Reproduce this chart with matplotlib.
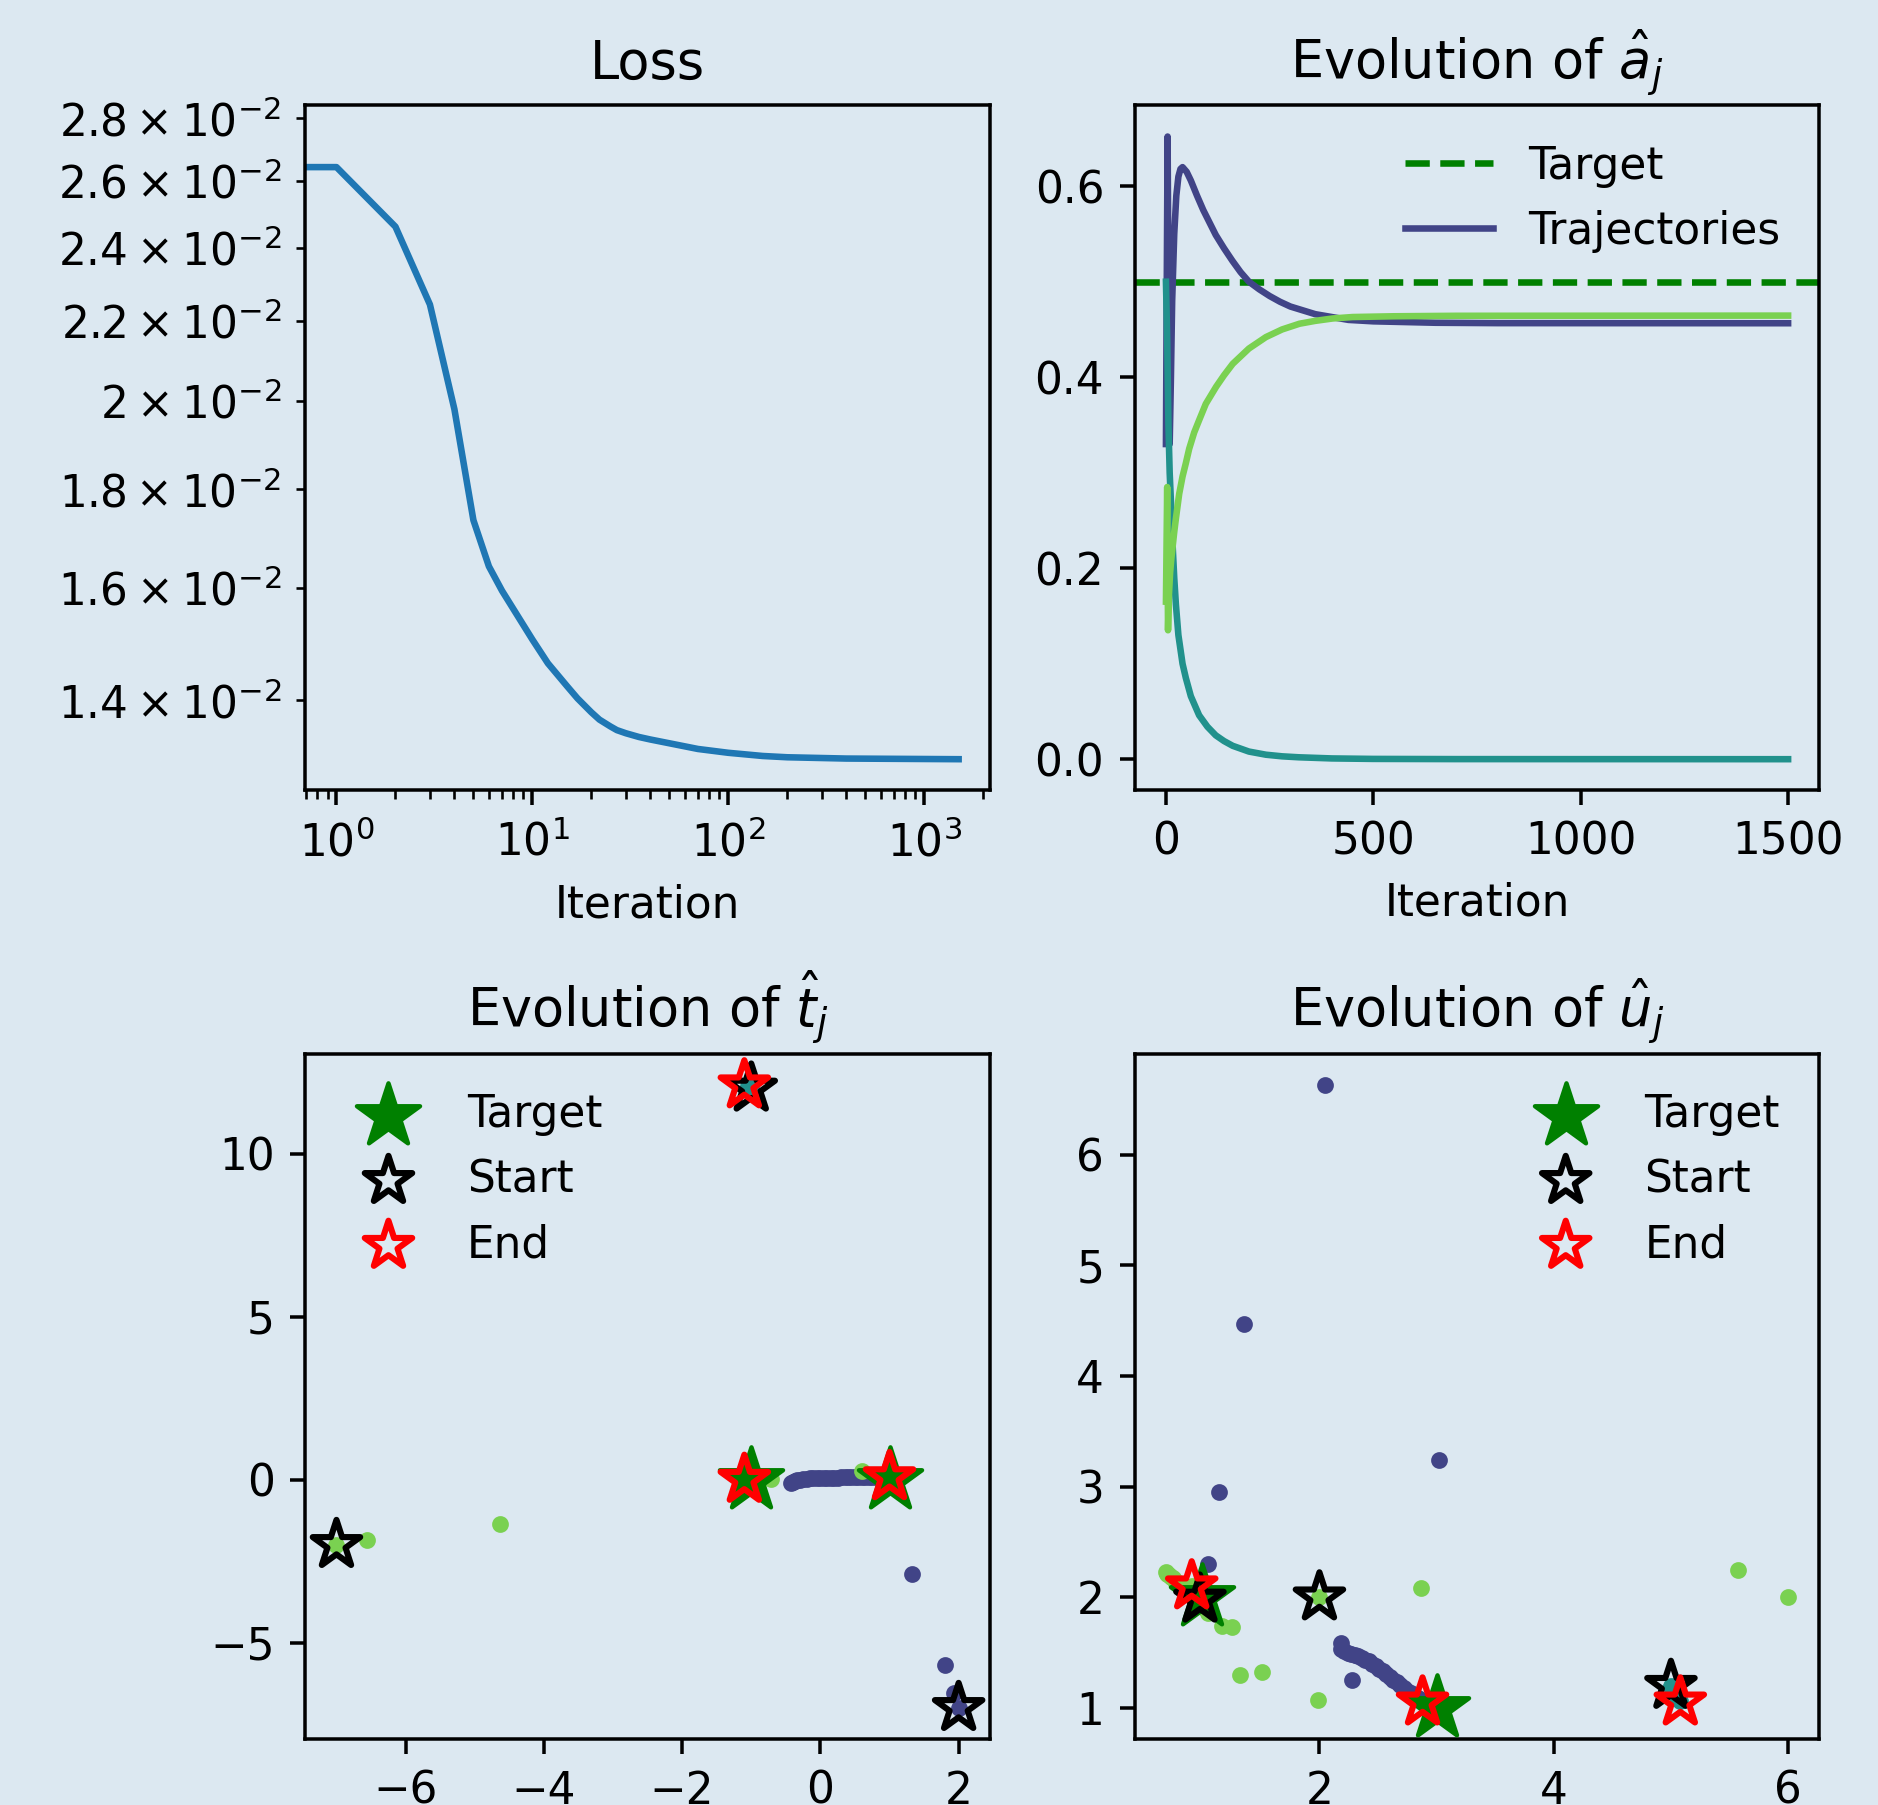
import matplotlib
matplotlib.use("Agg")
import matplotlib.pyplot as plt
import numpy as np
from matplotlib import cm

BG = "#dce8f1"

# --- loss curve ---
loss_iter = [0, 1, 2, 3, 4, 5, 6, 7, 10, 12, 15, 17, 20, 22, 25, 27, 30, 35, 40, 50,
             70, 100, 150, 200, 400, 1500]
loss_vals = [2.74e-2, 2.642e-2, 2.461e-2, 2.243e-2, 1.980e-2, 1.735e-2, 1.642e-2,
             1.595e-2, 1.505e-2, 1.463e-2, 1.424e-2, 1.403e-2, 1.380e-2, 1.368e-2,
             1.357e-2, 1.351e-2, 1.346e-2, 1.340e-2, 1.336e-2, 1.330e-2, 1.321e-2,
             1.315e-2, 1.310e-2, 1.308e-2, 1.306e-2, 1.305e-2]

# --- amplitudes a_j ---
a_target = 0.5
a0_iter = [0, 2, 4, 6, 9, 12, 15, 20, 25, 30, 35, 40, 50, 60, 75, 90, 105, 120, 140,
           160, 180, 200, 225, 250, 275, 300, 330, 360, 400, 440, 500, 550, 650, 800, 1500]
a0_vals = [0.33, 0.50, 0.652, 0.50, 0.33, 0.40, 0.48, 0.55, 0.59, 0.61, 0.618, 0.62,
           0.615, 0.606, 0.59, 0.575, 0.562, 0.549, 0.535, 0.522, 0.51, 0.50, 0.492,
           0.485, 0.479, 0.474, 0.470, 0.466, 0.463, 0.460, 0.4585, 0.458, 0.457,
           0.4566, 0.4565]
a1_iter = [0, 3, 6, 9, 12, 16, 20, 24, 30, 40, 48, 60, 80, 100, 120, 140, 161, 200,
           241, 280, 320, 400, 500, 700, 1500]
a1_vals = [0.50, 0.44, 0.35, 0.30, 0.27, 0.225, 0.19, 0.162, 0.13, 0.10, 0.085, 0.066,
           0.046, 0.034, 0.025, 0.019, 0.014, 0.008, 0.0047, 0.003, 0.002, 0.0008,
           0.0003, 0.0001, 0.0]
a2_iter = [0, 3, 5, 7, 10, 13, 16, 20, 24, 32, 40, 48, 56, 68, 80, 96, 121, 140, 161,
           200, 241, 280, 322, 360, 402, 450, 550, 700, 1500]
a2_vals = [0.165, 0.285, 0.135, 0.17, 0.195, 0.21, 0.222, 0.238, 0.252, 0.278, 0.296,
           0.31, 0.325, 0.342, 0.355, 0.372, 0.390, 0.402, 0.414, 0.430, 0.442, 0.450,
           0.456, 0.459, 0.4615, 0.463, 0.4638, 0.4643, 0.4645]

# --- positions t_j ---
t_target_x = [-1.0, 1.0]
t_target_y = [0.0, 0.0]
t_start_x = [2.0, -1.0, -7.0]
t_start_y = [-7.0, 12.0, -2.0]
t_end_x = [1.0, -1.1, -1.1]
t_end_y = [0.08, 12.1, 0.0]
t0_x = [2.0, 1.93, 1.8, 1.33, -0.42, -0.40, -0.37, -0.34, -0.30, -0.25, -0.20, -0.15,
        -0.10, -0.05, 0.0, 0.05, 0.10, 0.15, 0.20, 0.25, 0.30, 0.35, 0.40, 0.45, 0.50,
        0.55, 0.60, 0.65, 0.70, 0.75, 0.80, 0.85, 0.90, 0.95]
t0_y = [-7.0, -6.55, -5.68, -2.9, -0.10, -0.06, -0.03, -0.01, 0.0, 0.02, 0.03, 0.04,
        0.04, 0.05, 0.05, 0.05, 0.06, 0.06, 0.06, 0.06, 0.07, 0.07, 0.07, 0.07, 0.08,
        0.08, 0.08, 0.08, 0.09, 0.09, 0.09, 0.09, 0.09, 0.08]
t1_x = [-1.0, -1.02, -1.04]
t1_y = [12.0, 12.03, 12.06]
t2_x = [-7.0, -6.56, -4.63, 0.6, -0.72, -0.9, -1.0, -1.05]
t2_y = [-2.01, -1.86, -1.37, 0.26, 0.03, 0.02, 0.01, 0.0]

# --- shapes u_j ---
u_target_x = [1.0, 3.0]
u_target_y = [2.0, 1.0]
u_start_x = [0.98, 5.0, 2.0]
u_start_y = [1.98, 1.2, 2.0]
u_end_x = [2.88, 5.08, 0.91]
u_end_y = [1.05, 1.05, 2.1]
u0_x = [0.98, 2.05, 1.36, 3.02, 1.14, 1.05, 2.18, 2.28,
        2.18, 2.21, 2.24, 2.27, 2.30, 2.33, 2.36, 2.39, 2.42, 2.45, 2.48, 2.51, 2.54,
        2.57, 2.60, 2.63, 2.66, 2.69, 2.72, 2.75, 2.78, 2.81, 2.84, 2.87]
u0_y = [1.98, 6.63, 4.47, 3.24, 2.95, 2.30, 1.59, 1.25,
        1.53, 1.51, 1.50, 1.49, 1.48, 1.465, 1.45, 1.435, 1.42, 1.40, 1.38, 1.355, 1.33,
        1.305, 1.28, 1.255, 1.23, 1.205, 1.18, 1.155, 1.13, 1.11, 1.09, 1.07]
u1_x = [5.0, 5.0, 5.05, 5.08]
u1_y = [1.2, 1.19, 1.1, 1.06]
u2_x = [2.0, 6.0, 5.57, 2.87, 1.51, 1.32, 1.99, 1.17, 1.25,
        0.69, 0.70, 0.72, 0.73, 0.75, 0.77, 0.79, 0.81, 0.83, 0.85, 0.87, 0.89, 0.91,
        0.93, 0.95, 0.97, 0.99, 1.01, 1.03, 1.05, 0.91]
u2_y = [2.0, 2.0, 2.25, 2.08, 1.32, 1.30, 1.07, 1.74, 1.73,
        2.23, 2.21, 2.20, 2.18, 2.17, 2.15, 2.13, 2.11, 2.09, 2.07, 2.05, 2.03, 2.01,
        1.99, 1.97, 1.95, 1.93, 1.91, 1.89, 1.86, 2.1]

colors = cm.viridis(np.linspace(0.2, 0.8, 3))

plt.rcParams["figure.facecolor"] = BG
plt.rcParams["axes.facecolor"] = BG
plt.rcParams["savefig.facecolor"] = BG

DPI = 315
fig, axes = plt.subplots(2, 2, figsize=(1878 / DPI, 1805 / DPI), dpi=DPI)
fig.subplots_adjust(left=0.1626, right=0.9687, top=0.9416, bottom=0.0366,
                    wspace=0.212, hspace=0.385)

ax = axes[0, 0]
ax.plot(loss_iter, loss_vals, color="C0")
ax.set_xscale("log")
ax.set_yscale("log")
ax.set_title("Loss")
ax.set_xlabel("Iteration")

ax = axes[0, 1]
ax.axhline(a_target, color="green", linestyle="--", label="Target")
ax.plot(a0_iter, a0_vals, color=colors[0], label="Trajectories")
ax.plot(a1_iter, a1_vals, color=colors[1])
ax.plot(a2_iter, a2_vals, color=colors[2])
ax.set_title(r"Evolution of $\hat{a}_j$")
ax.set_xlabel("Iteration")
ax.legend(loc="upper right", frameon=False)


def scatter_panel(ax, trajs, tx, ty, sx, sy, ex, ey, title, loc):
    for (px, py), c in zip(trajs, colors):
        ax.scatter(px, py, s=8, color=c, zorder=2)
    ax.scatter(tx, ty, marker="*", s=230, color="green", label="Target", zorder=3)
    ax.scatter(sx, sy, marker="*", s=130, facecolors="none", edgecolors="black",
               linewidths=1.4, label="Start", zorder=4)
    ax.scatter(ex, ey, marker="*", s=130, facecolors="none", edgecolors="red",
               linewidths=1.4, label="End", zorder=5)
    ax.set_title(title)
    ax.legend(loc=loc, frameon=False)


scatter_panel(axes[1, 0], [(t0_x, t0_y), (t1_x, t1_y), (t2_x, t2_y)],
              t_target_x, t_target_y, t_start_x, t_start_y, t_end_x, t_end_y,
              r"Evolution of $\hat{t}_j$", "upper left")
scatter_panel(axes[1, 1], [(u0_x, u0_y), (u1_x, u1_y), (u2_x, u2_y)],
              u_target_x, u_target_y, u_start_x, u_start_y, u_end_x, u_end_y,
              r"Evolution of $\hat{u}_j$", "upper right")

fig.savefig("out.png", dpi=DPI)
